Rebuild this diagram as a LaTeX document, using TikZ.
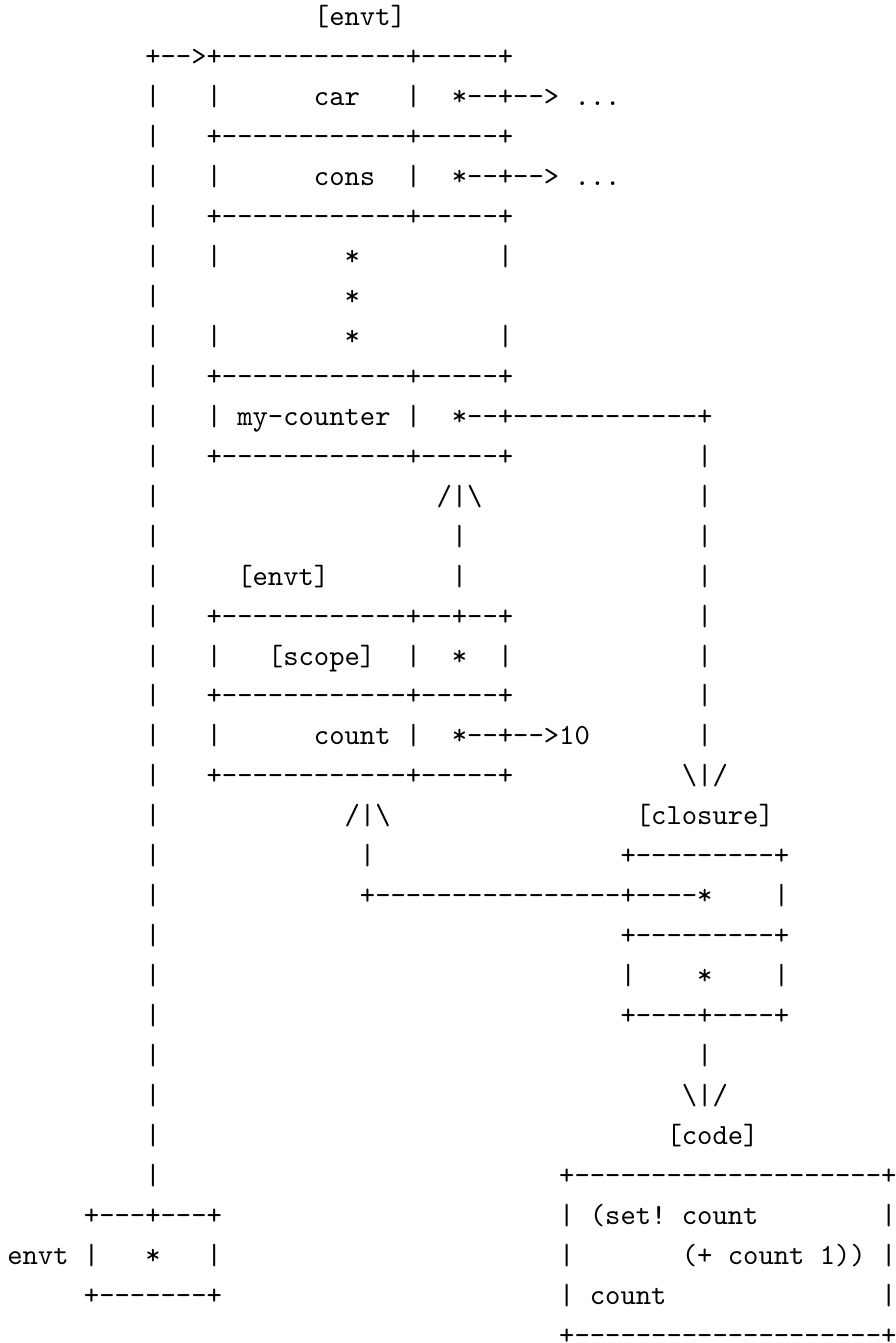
\documentclass[tikz,border=0pt]{standalone}
\usepackage{tikz}
\DeclareFontFamily{TU}{asciitt}{\hyphenchar\font=-1}
\DeclareFontShape{TU}{asciitt}{m}{n}{<-> "[lmmono10-regular]"}{}
\newlength\chw
\newcommand\asciifont{\fontencoding{TU}\fontfamily{asciitt}\fontsize{\asciisize}{\asciisize}\selectfont\frenchspacing}
\begin{document}
\settowidth\chw{\fontencoding{TU}\fontfamily{asciitt}\fontsize{10}{12}\selectfont x}\global\chw=\chw
\pgfmathsetmacro\tmpsize{10*15.33/\chw}\xdef\asciisize{\tmpsize}
\begin{tikzpicture}
\tikzstyle{ascii}=[anchor=base west, inner sep=0pt, outer sep=0pt, font=\asciifont]
\useasboundingbox (0,0) rectangle (895pt,-1343pt);
\begin{scope}[x=15.33pt, y=-39.94pt, shift={(7.33pt,13.94pt)}]
\node[ascii] (envttop) at (20,1) {[envt]};
\node[ascii] (framehead) at (9,2) {+-->+------------+-----+};
\foreach \r in {3,...,30} \node[ascii] (outer\r) at (9,\r) {|};
\node[ascii] (carl) at (13,3) {|};
\node[ascii] (car) at (20,3) {car};
\node[ascii] (carm) at (26,3) {|};
\node[ascii] (carptr) at (29,3) {*--+--> ...};
\node[ascii] (line4) at (13,4) {+------------+-----+};
\node[ascii] (consl) at (13,5) {|};
\node[ascii] (cons) at (20,5) {cons};
\node[ascii] (consm) at (26,5) {|};
\node[ascii] (consptr) at (29,5) {*--+--> ...};
\node[ascii] (line6) at (13,6) {+------------+-----+};
\node[ascii] (dotla) at (13,7) {|};
\node[ascii] (dota) at (22,7) {*};
\node[ascii] (dotra) at (32,7) {|};
\node[ascii] (dotb) at (22,8) {*};
\node[ascii] (dotlc) at (13,9) {|};
\node[ascii] (dotc) at (22,9) {*};
\node[ascii] (dotrc) at (32,9) {|};
\node[ascii] (line10) at (13,10) {+------------+-----+};
\node[ascii] (counterl) at (13,11) {|};
\node[ascii] (counter) at (15,11) {my-counter};
\node[ascii] (counterm) at (26,11) {|};
\node[ascii] (counterptr) at (29,11) {*--+------------+};
\node[ascii] (line12) at (13,12) {+------------+-----+};
\foreach \r in {12,...,19} \node[ascii] (drop\r) at (45,\r) {|};
\node[ascii] (uparrowa) at (28,13) {/|\textbackslash};
\node[ascii] (upa) at (29,14) {|};
\node[ascii] (upb) at (29,15) {|};
\node[ascii] (envtmid) at (15,15) {[envt]};
\node[ascii] (line16) at (13,16) {+------------+--+--+};
\node[ascii] (scopel) at (13,17) {|};
\node[ascii] (scope) at (17,17) {[scope]};
\node[ascii] (scopem) at (26,17) {|};
\node[ascii] (scopeptr) at (29,17) {*};
\node[ascii] (scoper) at (32,17) {|};
\node[ascii] (line18) at (13,18) {+------------+-----+};
\node[ascii] (countl) at (13,19) {|};
\node[ascii] (count) at (20,19) {count};
\node[ascii] (countm) at (26,19) {|};
\node[ascii] (countptr) at (29,19) {*--+-->10};
\node[ascii] (line20) at (13,20) {+------------+-----+};
\node[ascii] (downarrowa) at (44,20) {\textbackslash|/};
\node[ascii] (uparrowb) at (22,21) {/|\textbackslash};
\node[ascii] (closure) at (41,21) {[closure]};
\node[ascii] (upc) at (23,22) {|};
\node[ascii] (line22) at (40,22) {+---------+};
\node[ascii] (envtptr) at (23,23) {+----------------+----*};
\node[ascii] (envtr) at (50,23) {|};
\node[ascii] (line24) at (40,24) {+---------+};
\node[ascii] (codel) at (40,25) {|};
\node[ascii] (codeptr) at (45,25) {*};
\node[ascii] (coder) at (50,25) {|};
\node[ascii] (line26) at (40,26) {+----+----+};
\node[ascii] (downb) at (45,27) {|};
\node[ascii] (downarrowb) at (44,28) {\textbackslash|/};
\node[ascii] (code) at (43,29) {[code]};
\node[ascii] (line30) at (36,30) {+--------------------+};
\node[ascii] (globaltop) at (5,31) {+---+---+};
\node[ascii] (bodyla) at (36,31) {|};
\node[ascii] (bodya) at (38,31) {(set! count};
\node[ascii] (bodyra) at (57,31) {|};
\node[ascii] (envt) at (0,32) {envt};
\node[ascii] (globall) at (5,32) {|};
\node[ascii] (globalptr) at (9,32) {*};
\node[ascii] (globalr) at (13,32) {|};
\node[ascii] (bodylb) at (36,32) {|};
\node[ascii] (bodyb) at (44,32) {(+ count 1))};
\node[ascii] (bodyrb) at (57,32) {|};
\node[ascii] (globalbot) at (5,33) {+-------+};
\node[ascii] (bodylc) at (36,33) {|};
\node[ascii] (bodyc) at (38,33) {count};
\node[ascii] (bodyrc) at (57,33) {|};
\node[ascii] (line34) at (36,34) {+--------------------+};
\end{scope}
\end{tikzpicture}
\end{document}
